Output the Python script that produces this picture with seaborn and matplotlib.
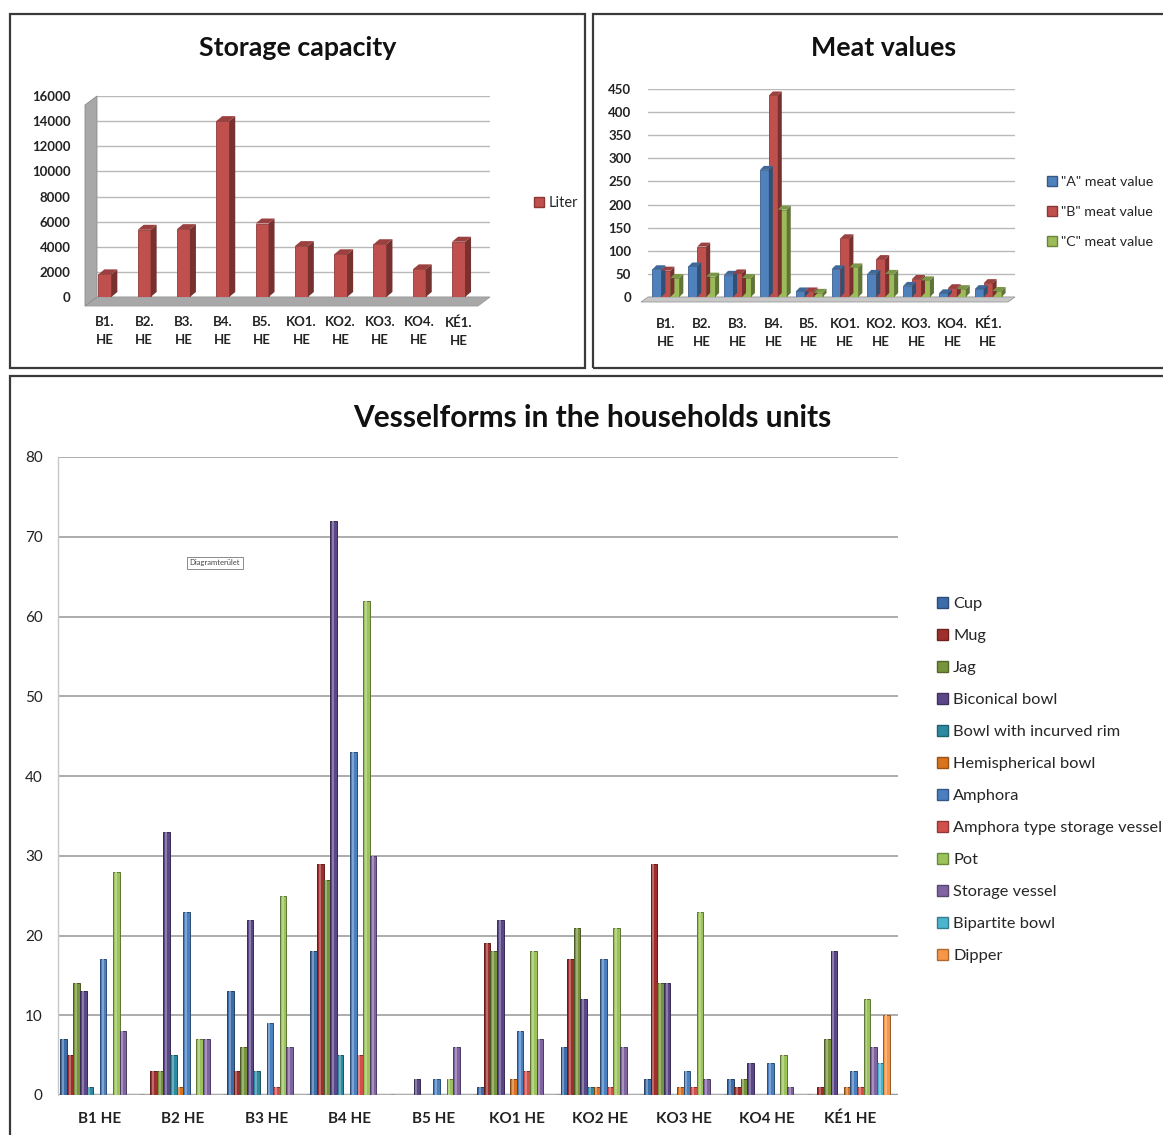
import numpy as np
import pandas as pd
import matplotlib
matplotlib.use("Agg")
import matplotlib.pyplot as plt
import seaborn as sns
from matplotlib.patches import Rectangle, Polygon
from matplotlib.colors import to_rgb

sns.set_theme(style="white")
plt.rcParams['font.family'] = ['Lato', 'DejaVu Sans']

# ---------------- data ----------------
unit_labels = ["B1.\nHE", "B2.\nHE", "B3.\nHE", "B4.\nHE", "B5.\nHE",
               "KO1.\nHE", "KO2.\nHE", "KO3.\nHE", "KO4.\nHE", "KÉ1.\nHE"]
storage_liters = [1800, 5350, 5400, 14000, 5850, 4050, 3400, 4200, 2200, 4400]

meat_a = [60, 66, 48, 275, 12, 60, 50, 24, 8, 17]
meat_b = [57, 109, 51, 436, 12, 127, 82, 39, 19, 30]
meat_c = [41, 44, 41, 189, 9, 64, 50, 36, 17, 13]
meat_series = ['"A" meat value', '"B" meat value', '"C" meat value']

households = ["B1 HE", "B2 HE", "B3 HE", "B4 HE", "B5 HE",
              "KO1 HE", "KO2 HE", "KO3 HE", "KO4 HE", "KÉ1 HE"]
vessel_forms = ["Cup", "Mug", "Jag", "Biconical bowl", "Bowl with incurved rim",
                "Hemispherical bowl", "Amphora", "Amphora type storage vessel",
                "Pot", "Storage vessel", "Bipartite bowl", "Dipper"]
cup = [7, 0, 13, 18, 0, 1, 6, 2, 2, 0]
mug = [5, 3, 3, 29, 0, 19, 17, 29, 1, 1]
jag = [14, 3, 6, 27, 0, 18, 21, 14, 2, 7]
biconical_bowl = [13, 33, 22, 72, 2, 22, 12, 14, 4, 18]
incurved_rim_bowl = [1, 5, 3, 5, 0, 0, 1, 0, 0, 0]
hemispherical_bowl = [0, 1, 0, 0, 0, 2, 1, 1, 0, 1]
amphora = [17, 23, 9, 43, 2, 8, 17, 3, 4, 3]
amphora_storage = [0, 0, 1, 5, 0, 3, 1, 1, 0, 1]
pot = [28, 7, 25, 62, 2, 18, 21, 23, 5, 12]
storage_vessel = [8, 7, 6, 30, 6, 7, 6, 2, 1, 6]
bipartite_bowl = [0, 0, 0, 0, 0, 0, 0, 0, 0, 4]
dipper = [0, 0, 0, 0, 0, 0, 0, 0, 0, 10]

vessel_colors = ["#3C6DA8", "#9E2F2C", "#77933C", "#5B4787", "#2E8AA0", "#D9731F",
                 "#4A7FC0", "#D2504B", "#9BC35A", "#8064A2", "#4BB4CE", "#F79646"]
meat_colors = ["#4F81BD", "#C0504D", "#9BBB59"]
liter_color = "#C0504D"

W, H = 1163, 1135
fig = plt.figure(figsize=(W / 100, H / 100), dpi=100)
fig.patch.set_facecolor("white")


def px_axes(x0, y0, x1, y1):
    """Axes from pixel box (top-left origin)."""
    return fig.add_axes([x0 / W, 1 - y1 / H, (x1 - x0) / W, (y1 - y0) / H])


def shade(c, f):
    r, g, b = to_rgb(c)
    if f < 1:
        return (r * f, g * f, b * f)
    f = f - 1
    return (r + (1 - r) * f, g + (1 - g) * f, b + (1 - b) * f)


def to_data(ax, pts):
    return ax.transData.inverted().transform(np.array(pts))


def extrude_bars(ax, dx, dy):
    """Give each flat bar a side and a top face to look like a block."""
    for p in list(ax.patches):
        if not isinstance(p, Rectangle) or p.get_height() <= 0:
            continue
        x, y = p.get_x(), p.get_y()
        w, h = p.get_width(), p.get_height()
        (x0, y0), (x1, y1) = ax.transData.transform([(x, y), (x + w, y + h)])
        col = p.get_facecolor()
        side = to_data(ax, [(x1, y0), (x1 + dx, y0 + dy), (x1 + dx, y1 + dy), (x1, y1)])
        top = to_data(ax, [(x0, y1), (x0 + dx, y1 + dy), (x1 + dx, y1 + dy), (x1, y1)])
        ax.add_patch(Polygon(side, closed=True, facecolor=shade(col, 0.62),
                             edgecolor="none", clip_on=False, zorder=3))
        ax.add_patch(Polygon(top, closed=True, facecolor=shade(col, 0.8),
                             edgecolor="none", clip_on=False, zorder=3))
        p.set_zorder(3)
        p.set_edgecolor(shade(col, 0.75))
        p.set_linewidth(0.6)


def floor_and_wall(ax, dx, dy, floor_col, wall=True):
    xl, xr = ax.get_xlim()
    yb, yt = ax.get_ylim()
    (X0, Y0), (X1, Y1) = ax.transData.transform([(xl, yb), (xr, yt)])
    floor = to_data(ax, [(X0 - dx, Y0 - dy), (X1 - dx, Y0 - dy), (X1, Y0), (X0, Y0)])
    ax.add_patch(Polygon(floor, closed=True, facecolor=floor_col, edgecolor="#9A9A9A",
                         lw=0.6, clip_on=False, zorder=1))
    if wall:
        wpts = to_data(ax, [(X0 - dx, Y0 - dy), (X0, Y0), (X0, Y1), (X0 - dx, Y1 - dy)])
        ax.add_patch(Polygon(wpts, closed=True, facecolor="#A8A8A8", edgecolor="#8C8C8C",
                             lw=0.6, clip_on=False, zorder=1))


# ---------------- panel frames ----------------
for (x0, y0, x1, y1) in [(10, 14, 585, 368), (593, 14, 1170, 368), (10, 376, 1170, 1142)]:
    fig.add_artist(Rectangle((x0 / W, 1 - y1 / H), (x1 - x0) / W, (y1 - y0) / H,
                             transform=fig.transFigure, fill=False,
                             edgecolor="#3A3A3A", lw=1.6))

# ---------------- Storage capacity ----------------
ax1 = px_axes(97, 96, 490, 297)
df_store = pd.DataFrame({"unit": unit_labels, "Liter": storage_liters})
sns.barplot(data=df_store, x="unit", y="Liter", color=liter_color, width=0.33,
            saturation=1, ax=ax1, zorder=3)
ax1.set_xlim(-0.2, 9.8)
ax1.set_ylim(0, 16000)
ax1.set_yticks(range(0, 16001, 2000))
ax1.grid(axis="y", color="#B9B9B9", lw=1.0, zorder=0)
for s in ax1.spines.values():
    s.set_visible(False)
ax1.set_xlabel("")
ax1.set_ylabel("")
ax1.tick_params(axis="y", labelsize=9.5, pad=19, colors="#222222", length=0)
ax1.tick_params(axis="x", labelsize=9.5, pad=14, colors="#222222", length=0)
for t in ax1.get_xticklabels() + ax1.get_yticklabels():
    t.set_fontweight("bold")
for t in ax1.get_xticklabels():
    t.set_linespacing(1.6)
floor_and_wall(ax1, 12, 9, "#A8A8A8")
extrude_bars(ax1, 6, 5)
fig.text(298 / W, 1 - 48 / H, "Storage capacity", ha="center", va="center",
         fontsize=19.3, fontweight="bold", color="#111111")
ax1.legend(handles=[Rectangle((0, 0), 1, 1, facecolor=liter_color, edgecolor="#8E3634")],
           labels=["Liter"], loc="center left", bbox_to_anchor=(521 / W, 1 - 203 / H),
           bbox_transform=fig.transFigure, frameon=False, fontsize=10.5,
           handlelength=0.7, handleheight=0.7, handletextpad=0.3)

# ---------------- Meat values ----------------
ax2 = px_axes(648, 89, 1015, 297)
df_meat = pd.DataFrame({"unit": unit_labels * 3,
                        "series": sum([[s] * 10 for s in meat_series], []),
                        "value": meat_a + meat_b + meat_c})
sns.barplot(data=df_meat, x="unit", y="value", hue="series", hue_order=meat_series,
            palette=meat_colors, width=0.75, saturation=1, ax=ax2, zorder=3)
ax2.set_xlim(-0.5, 9.75)
ax2.set_ylim(0, 450)
ax2.set_yticks(range(0, 451, 50))
ax2.grid(axis="y", color="#B9B9B9", lw=1.0, zorder=0)
for s in ax2.spines.values():
    s.set_visible(False)
ax2.set_xlabel("")
ax2.set_ylabel("")
ax2.tick_params(axis="y", labelsize=9.5, pad=12, colors="#222222", length=0)
ax2.tick_params(axis="x", labelsize=9.5, pad=15, colors="#222222", length=0)
for t in ax2.get_xticklabels() + ax2.get_yticklabels():
    t.set_fontweight("bold")
for t in ax2.get_xticklabels():
    t.set_linespacing(1.6)
ax2.get_legend().remove()
floor_and_wall(ax2, 7, 5, "#C8C8C8", wall=False)
extrude_bars(ax2, 4, 4)
fig.text(884 / W, 1 - 48 / H, "Meat values", ha="center", va="center",
         fontsize=19.3, fontweight="bold", color="#111111")
ax2.legend(handles=[Rectangle((0, 0), 1, 1, facecolor=c, edgecolor=shade(c, 0.7))
                    for c in meat_colors],
           labels=meat_series, loc="center left", bbox_to_anchor=(1034 / W, 1 - 212 / H),
           bbox_transform=fig.transFigure, frameon=False, fontsize=10.3,
           handlelength=0.7, handleheight=0.7, handletextpad=0.3, labelspacing=1.25)

# ---------------- Vesselforms ----------------
ax3 = px_axes(58, 457, 898, 1095)
vessel_values = [cup, mug, jag, biconical_bowl, incurved_rim_bowl, hemispherical_bowl,
                 amphora, amphora_storage, pot, storage_vessel, bipartite_bowl, dipper]
df_vessel = pd.DataFrame({
    "household": households * len(vessel_forms),
    "form": sum([[f] * len(households) for f in vessel_forms], []),
    "count": sum(vessel_values, []),
})
sns.barplot(data=df_vessel, x="household", y="count", hue="form", hue_order=vessel_forms,
            palette=vessel_colors, width=0.95, saturation=1, ax=ax3, zorder=3)
ax3.set_xlim(-0.5, 9.57)
ax3.set_ylim(0, 80)
ax3.set_yticks(range(0, 81, 10))
ax3.grid(axis="y", color="#A6A6A6", lw=1.3, zorder=0)
for s in ["top", "right", "bottom"]:
    ax3.spines[s].set_visible(False)
ax3.spines["left"].set_color("#C8C8C8")
ax3.spines["left"].set_linewidth(1.0)
ax3.axhline(0, color="#9C9C9C", lw=2.5, zorder=2)
ax3.set_xlabel("")
ax3.set_ylabel("")
ax3.tick_params(axis="y", labelsize=11, pad=11, colors="#222222", length=0)
ax3.tick_params(axis="x", labelsize=11, pad=12, colors="#222222", length=0)
for t in ax3.get_xticklabels():
    t.set_fontweight("bold")
ax3.get_legend().remove()

# cylinder-like shading: dark rim and a light highlight strip on each bar
for cont, col in zip(ax3.containers, vessel_colors):
    for p in cont.patches:
        if p.get_height() <= 0:
            continue
        p.set_edgecolor(shade(col, 0.6))
        p.set_linewidth(0.7)
        x, w, h = p.get_x(), p.get_width(), p.get_height()
        ax3.add_patch(Rectangle((x + 0.28 * w, 0), 0.3 * w, h, facecolor=shade(col, 1.3),
                                edgecolor="none", zorder=3.5))

fig.text(592 / W, 1 - 418 / H, "Vesselforms in the households units", ha="center",
         va="center", fontsize=21.5, fontweight="bold", color="#111111")
ax3.legend(handles=[Rectangle((0, 0), 1, 1, facecolor=c, edgecolor=shade(c, 0.7))
                    for c in vessel_colors],
           labels=vessel_forms, loc="upper left", bbox_to_anchor=(922 / W, 1 - 582 / H),
           bbox_transform=fig.transFigure, frameon=False, fontsize=11.8,
           handlelength=0.7, handleheight=0.7, handletextpad=0.3, labelspacing=1.07)

fig.text(215 / W, 1 - 563 / H, "Diagramterület", ha="center", va="center", fontsize=5.5,
         color="#444444",
         bbox=dict(boxstyle="square,pad=0.35", facecolor="white", edgecolor="#8A8A8A", lw=0.7))

fig.savefig("out.png", dpi=100, facecolor="white")
